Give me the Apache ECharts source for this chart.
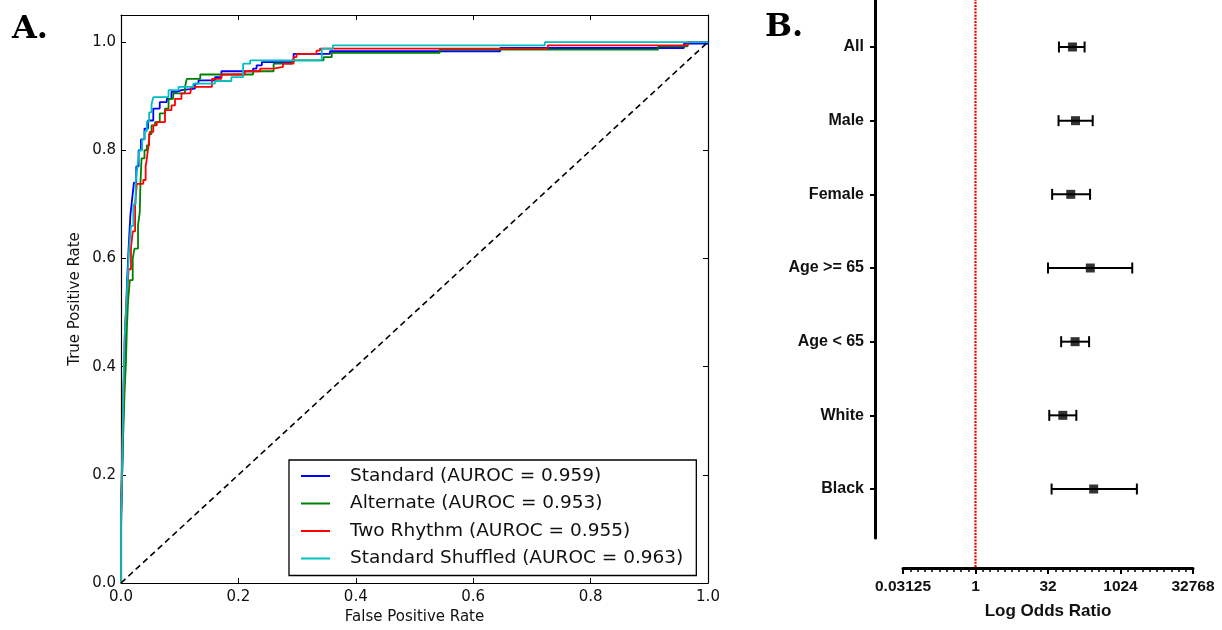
<!DOCTYPE html>
<html>
<head>
<meta charset="utf-8">
<script src="https://cdn.jsdelivr.net/npm/echarts@6/dist/echarts.min.js"></script>
<style>
  html, body { margin: 0; padding: 0; background: #fff; }
  #chart { width: 1222px; height: 630px; }
</style>
</head>
<body>
<div id="chart"></div>
<script>
// ---- Panel A: ROC operating points [false positive rate, true positive rate] ----
const standardRoc = [
  [0, 0], [0, 0.10], [0.003, 0.25], [0.005, 0.38], [0.008, 0.47], [0.010, 0.55],
  [0.013, 0.62], [0.016, 0.68], [0.019, 0.71], [0.022, 0.74], [0.026, 0.77],
  [0.030, 0.80], [0.034, 0.82], [0.040, 0.84], [0.046, 0.855], [0.055, 0.877],
  [0.066, 0.889], [0.078, 0.895], [0.086, 0.908], [0.095, 0.911], [0.103, 0.914],
  [0.126, 0.923], [0.132, 0.929], [0.160, 0.935], [0.171, 0.946], [0.225, 0.951],
  [0.231, 0.957], [0.240, 0.963], [0.294, 0.978], [0.356, 0.983], [0.646, 0.989],
  [0.959, 0.997], [1.0, 1.0]
];
const alternateRoc = [
  [0, 0], [0, 0.12], [0.003, 0.25], [0.006, 0.35], [0.0085, 0.41], [0.010, 0.47],
  [0.012, 0.52], [0.015, 0.56], [0.020, 0.60], [0.023, 0.618], [0.029, 0.661],
  [0.032, 0.686], [0.033, 0.735], [0.035, 0.785], [0.040, 0.80], [0.044, 0.809],
  [0.048, 0.83], [0.052, 0.846], [0.058, 0.852], [0.066, 0.868], [0.075, 0.877],
  [0.081, 0.895], [0.089, 0.905], [0.109, 0.917], [0.112, 0.932], [0.135, 0.940],
  [0.225, 0.946], [0.260, 0.960], [0.291, 0.966], [0.345, 0.972], [0.359, 0.980],
  [0.543, 0.986], [0.915, 0.992], [0.965, 1.0], [1.0, 1.0]
];
const twoRhythmRoc = [
  [0, 0], [0, 0.16], [0.002, 0.23], [0.004, 0.35], [0.007, 0.48], [0.010, 0.53],
  [0.013, 0.58], [0.017, 0.62], [0.020, 0.65], [0.024, 0.70], [0.027, 0.738],
  [0.038, 0.745], [0.042, 0.77], [0.044, 0.785], [0.047, 0.81], [0.049, 0.834],
  [0.055, 0.846], [0.061, 0.852], [0.075, 0.874], [0.086, 0.883], [0.092, 0.895],
  [0.103, 0.905], [0.118, 0.908], [0.120, 0.917], [0.155, 0.932], [0.171, 0.940],
  [0.211, 0.946], [0.237, 0.951], [0.260, 0.954], [0.276, 0.960], [0.294, 0.972],
  [0.299, 0.978], [0.333, 0.984], [0.339, 0.988], [0.727, 0.994], [0.966, 1.0],
  [1.0, 1.0]
];
const shuffledRoc = [
  [0, 0], [0, 0.12], [0.002, 0.22], [0.004, 0.35], [0.006, 0.45], [0.0085, 0.50],
  [0.011, 0.56], [0.014, 0.62], [0.017, 0.66], [0.021, 0.70], [0.025, 0.74],
  [0.028, 0.77], [0.031, 0.80], [0.036, 0.82], [0.040, 0.835], [0.044, 0.853],
  [0.048, 0.87], [0.052, 0.885], [0.055, 0.898], [0.081, 0.911], [0.098, 0.917],
  [0.123, 0.923], [0.160, 0.928], [0.188, 0.935], [0.208, 0.960], [0.220, 0.966],
  [0.342, 0.988], [0.361, 0.994], [0.722, 1.0], [1.0, 1.0]
];
const rocNames = [
  'Standard (AUROC = 0.959)',
  'Alternate (AUROC = 0.953)',
  'Two Rhythm (AUROC = 0.955)',
  'Standard Shuffled (AUROC = 0.963)'
];
const rocColors = ['#0000ff', '#008000', '#ff0000', '#00bfbf'];
const rocTicks = [0, 0.2, 0.4, 0.6, 0.8, 1.0];

// ---- Panel B: subgroup odds ratios with confidence intervals ----
const subgroups = ['All', 'Male', 'Female', 'Age >= 65', 'Age < 65', 'White', 'Black'];
const oddsRatio = [103, 119, 95, 242, 117, 65, 284];
const ciLow = [54, 53, 39, 32, 60, 34, 38];
const ciHigh = [184, 271, 239, 1795, 228, 124, 2241];
const oddsTicks = [0.03125, 1, 32, 1024, 32768];

// Turn threshold points into the step outline of a ROC curve
function staircase(pts) {
  const out = [pts[0]];
  for (let i = 1; i < pts.length; i++) {
    out.push([pts[i][0], pts[i - 1][1]]);
    out.push(pts[i]);
  }
  return out;
}

const rocSets = [standardRoc, alternateRoc, twoRhythmRoc, shuffledRoc];
const mplFont = 'DejaVu Sans';
const prismFont = 'Liberation Sans';

const chart = echarts.init(document.getElementById('chart'), null, { renderer: 'canvas' });

const frameLine = { onZero: false, lineStyle: { color: '#000', width: 1.2 } };
const innerTick = { show: true, inside: true, length: 5, lineStyle: { color: '#000', width: 1 } };

const rocSeries = rocSets.map((pts, k) => ({
  name: rocNames[k],
  type: 'line',
  xAxisIndex: 0,
  yAxisIndex: 0,
  data: staircase(pts),
  symbol: 'none',
  lineStyle: { color: rocColors[k], width: 1.8 },
  itemStyle: { color: rocColors[k] },
  z: 3 + k
}));

const option = {
  animation: false,
  backgroundColor: '#fff',
  graphic: [
    { type: 'text', left: 12, top: 14,
      style: { text: 'A.', font: 'bold 32px "DejaVu Serif"', fill: '#000' } },
    { type: 'text', left: 765, top: 12,
      style: { text: 'B.', font: 'bold 32px "DejaVu Serif"', fill: '#000' } }
  ],
  legend: {
    data: rocNames,
    orient: 'vertical',
    left: 289,
    top: 460,
    icon: 'rect',
    itemWidth: 29,
    itemHeight: 2,
    itemGap: 5.5,
    padding: [5, 13, 6, 12],
    borderColor: '#000',
    borderWidth: 1.3,
    borderRadius: 0,
    selectedMode: false,
    textStyle: { fontFamily: mplFont, fontSize: 18.5, color: '#111', lineHeight: 22, padding: [0, 0, 0, 15] }
  },
  grid: [
    { left: 121, top: 15, width: 587, height: 570, containLabel: false },
    { left: 903, top: 0, width: 290, height: 538, containLabel: false }
  ],
  xAxis: [
    {
      gridIndex: 0, type: 'value', position: 'bottom', min: 0, max: 1, interval: 0.2,
      axisLine: frameLine, axisTick: innerTick, splitLine: { show: false },
      axisLabel: { fontFamily: mplFont, fontSize: 15, color: '#111', margin: 7,
        formatter: v => (rocTicks.indexOf(+v.toFixed(1)) >= 0 ? v.toFixed(1) : '') },
      name: 'False Positive Rate', nameLocation: 'middle', nameGap: 27,
      nameTextStyle: { fontFamily: mplFont, fontSize: 15, color: '#111' }
    },
    {
      gridIndex: 0, type: 'value', position: 'top', min: 0, max: 1, interval: 0.2,
      axisLine: frameLine, axisTick: innerTick, axisLabel: { show: false }, splitLine: { show: false }
    },
    {
      gridIndex: 1, type: 'value', position: 'bottom', offset: 30, min: -5, max: 15, interval: 5,
      axisLine: { onZero: false, lineStyle: { color: '#000', width: 3 } },
      axisTick: { show: true, inside: false, length: 6, lineStyle: { color: '#000', width: 2 } },
      minorTick: { show: true, splitNumber: 10, length: 4, lineStyle: { color: '#000', width: 1.5 } },
      splitLine: { show: false },
      axisLabel: { fontFamily: prismFont, fontWeight: 'bold', fontSize: 15.5, color: '#111', margin: 11,
        formatter: v => {
          const t = oddsTicks.find(o => Math.abs(Math.log2(o) - v) < 1e-6);
          return t === undefined ? '' : String(t);
        } },
      name: 'Log Odds Ratio', nameLocation: 'middle', nameGap: 35,
      nameTextStyle: { fontFamily: prismFont, fontWeight: 'bold', fontSize: 17, color: '#111' }
    }
  ],
  yAxis: [
    {
      gridIndex: 0, type: 'value', position: 'left', min: 0, max: 1.05, interval: 0.2,
      axisLine: frameLine, axisTick: innerTick, splitLine: { show: false },
      axisLabel: { fontFamily: mplFont, fontSize: 15, color: '#111', margin: 5,
        formatter: v => (rocTicks.indexOf(+v.toFixed(2)) >= 0 ? v.toFixed(1) : '') },
      name: 'True Positive Rate', nameLocation: 'middle', nameGap: 38,
      nameTextStyle: { fontFamily: mplFont, fontSize: 15, color: '#111' }
    },
    {
      gridIndex: 0, type: 'value', position: 'right', min: 0, max: 1.05, interval: 0.2,
      axisLine: frameLine, axisTick: innerTick, axisLabel: { show: false }, splitLine: { show: false }
    },
    {
      gridIndex: 1, type: 'value', position: 'left', offset: 28, inverse: true,
      min: 0.362, max: 7.665,
      axisLine: { onZero: false, lineStyle: { color: '#000', width: 3 } },
      axisTick: { show: true, inside: false, length: 5, lineStyle: { color: '#000', width: 2 },
        customValues: subgroups.map((s, i) => i + 1) },
      splitLine: { show: false },
      axisLabel: { fontFamily: prismFont, fontWeight: 'bold', fontSize: 16, color: '#111', margin: 11,
        customValues: subgroups.map((s, i) => i + 1),
        formatter: v => subgroups[Math.round(v) - 1] || '' }
    }
  ],
  series: [
    ...rocSeries,
    {
      name: 'chance',
      type: 'line',
      xAxisIndex: 0, yAxisIndex: 0,
      data: [[0, 0], [1, 1]],
      symbol: 'none',
      lineStyle: { color: '#000', width: 1.6, type: [6, 4] },
      z: 8
    },
    {
      name: 'no effect',
      type: 'line',
      xAxisIndex: 2, yAxisIndex: 2,
      data: [[Math.log2(1), 0.3], [Math.log2(1), 8.07]],
      symbol: 'none',
      clip: false,
      lineStyle: { color: '#e60000', width: 2.2, type: [2, 1.2] },
      z: 2
    },
    {
      name: 'interval',
      type: 'custom',
      xAxisIndex: 2, yAxisIndex: 2,
      data: subgroups.map((s, i) => [Math.log2(ciLow[i]), Math.log2(ciHigh[i]), i + 1]),
      encode: { x: [0, 1], y: 2 },
      renderItem: (params, api) => {
        const a = api.coord([api.value(0), api.value(2)]);
        const b = api.coord([api.value(1), api.value(2)]);
        const st = { stroke: '#000', lineWidth: 2 };
        return {
          type: 'group',
          children: [
            { type: 'line', shape: { x1: a[0], y1: a[1], x2: b[0], y2: b[1] }, style: st },
            { type: 'line', shape: { x1: a[0], y1: a[1] - 5.5, x2: a[0], y2: a[1] + 5.5 }, style: st },
            { type: 'line', shape: { x1: b[0], y1: b[1] - 5.5, x2: b[0], y2: b[1] + 5.5 }, style: st }
          ]
        };
      },
      z: 3
    },
    {
      name: 'odds ratio',
      type: 'scatter',
      xAxisIndex: 2, yAxisIndex: 2,
      data: subgroups.map((s, i) => [Math.log2(oddsRatio[i]), i + 1]),
      symbol: 'rect',
      symbolSize: 9,
      itemStyle: { color: '#000' },
      z: 4
    }
  ]
};

chart.setOption(option);
</script>
</body>
</html>
